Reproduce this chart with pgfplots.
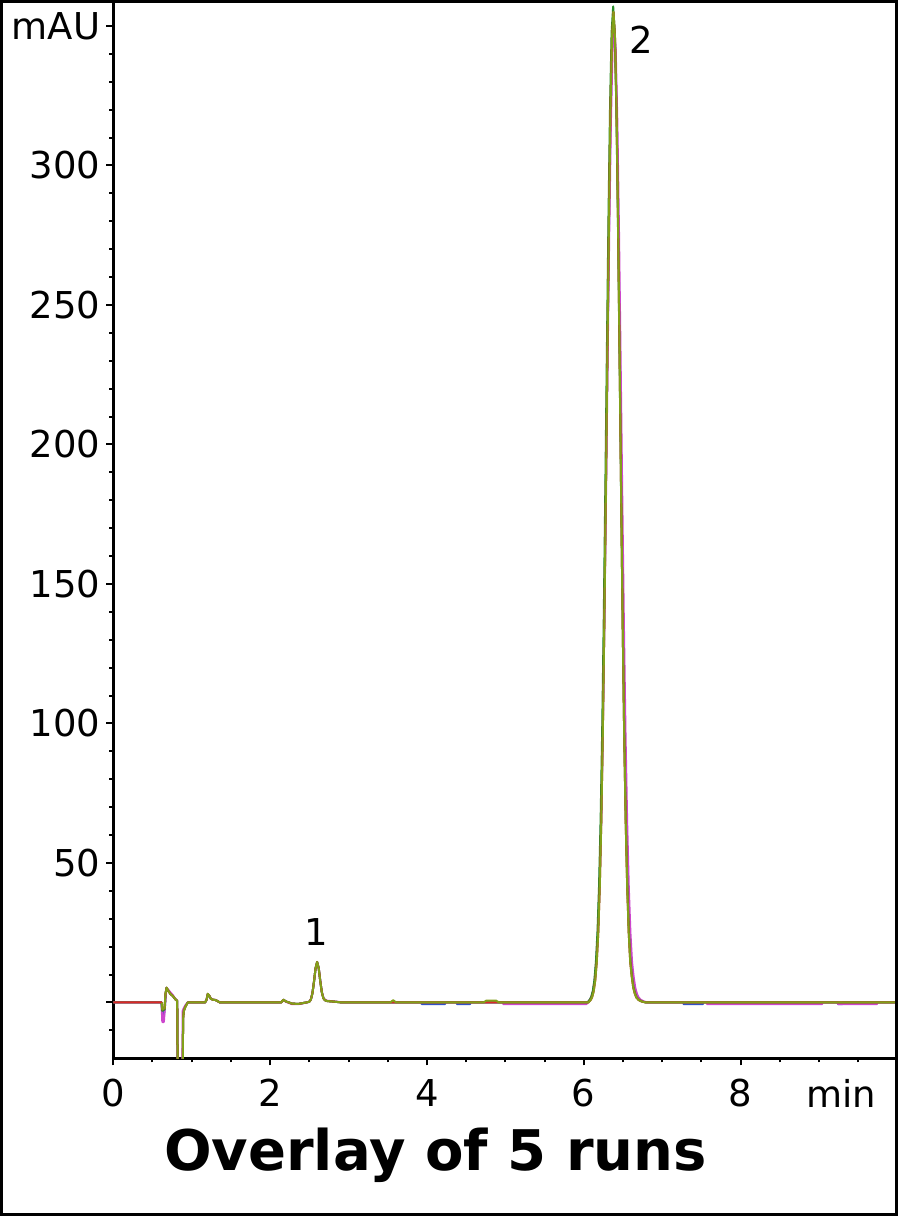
\documentclass[border=0pt]{standalone}
\usepackage{fontspec}
\setmainfont{DejaVu Sans}
\usepackage{pgfplots}
\pgfplotsset{compat=1.18}
\definecolor{cOlive}{RGB}{130,160,25}
\definecolor{cGreen}{RGB}{40,140,40}
\definecolor{cMag}{RGB}{205,70,205}
\definecolor{cBlue}{RGB}{50,80,200}
\definecolor{cRed}{RGB}{220,40,40}
\begin{document}
\begin{tikzpicture}
\useasboundingbox (-56.65pt,-78.85pt) rectangle (392.35pt,529.15pt);
\begin{axis}[
  at={(0,0)}, anchor=south west,
  scale only axis,
  width=392pt, height=529.15pt,
  xmin=0, xmax=10, ymin=-20, ymax=359.3,
  axis x line*=bottom, axis y line*=left,
  axis line style={line width=1.5pt, black},
  xtick={0,2,4,6,8}, xticklabels={0,2,4,6,8},
  minor xtick={0.5,1,...,9.5},
  ytick={0,50,100,150,200,250,300,350},
  yticklabels={,50,100,150,200,250,300,mAU},
  minor ytick={-10,10,20,...,340},
  tick align=outside,
  major tick length=3.5pt, minor tick length=2pt,
  tick style={line width=1pt, black},
  tick label style={font=\fontsize{18.5}{22}\selectfont},
  xticklabel style={yshift=-3.5pt},
  yticklabel style={xshift=0.5pt},
  /pgf/number format/assume math mode=true,
  every axis plot/.append style={line width=1pt, mark=none, line join=round},
]
% blue
\addplot[cBlue] coordinates {(0,0) (0.615,0) (0.625,-5) (0.645,-5) (0.66,-1) (0.675,5.2) (0.70,4.3) (0.73,3.1) (0.76,2.4) (0.79,1.2) (0.815,0.6) (0.83,-60) (0.88,-60) (0.89,-5) (0.90,-2.5) (0.92,-1.2) (0.95,0) (1.17,0) (1.19,1.0) (1.205,3.0) (1.225,2.3) (1.245,1.3) (1.27,1.0) (1.30,0.9) (1.33,0.5) (1.36,0) (2.14,0) (2.17,1.0) (2.20,0.4) (2.24,0) (2.28,-0.4) (2.36,-0.5) (2.42,-0.2) (2.46,0) (2.50,0.25) (2.52,1.1) (2.54,3.3) (2.56,7.5) (2.58,12.2) (2.60,14.3) (2.62,12.3) (2.64,7.7) (2.66,3.7) (2.68,1.6) (2.70,0.8) (2.73,0.5) (2.78,0.4) (2.85,0.2) (2.92,0) (3.93,0) (3.935,-0.6) (4.23,-0.6) (4.235,0) (4.38,0) (4.385,-0.6) (4.55,-0.6) (4.555,0)
(6.052,0) (6.082,0.9) (6.102,2.0) (6.122,4.1) (6.142,7.8) (6.162,14.4) (6.182,25.0) (6.202,41.4) (6.222,64.9) (6.242,96.4) (6.262,136.0) (6.282,181.9) (6.302,230.7) (6.322,277.5) (6.342,316.8) (6.362,342.9) (6.382,352) (6.402,342.9) (6.422,316.8) (6.442,277.5) (6.462,230.7) (6.482,181.9) (6.502,136.0) (6.522,96.4) (6.542,64.9) (6.562,41.4) (6.582,25.0) (6.602,14.4) (6.622,9.2) (6.642,5.2) (6.662,3.2) (6.682,1.8) (6.712,0.9) (6.752,0.35) (6.802,0)
(7.27,0) (7.275,-0.6) (7.52,-0.6) (7.525,0) (9.24,0) (9.245,-0.6) (9.30,-0.6) (9.305,0) (10,0)};
% magenta
\addplot[cMag] coordinates {(0,0) (0.615,0) (0.625,-7) (0.645,-7) (0.66,-1) (0.675,5.0) (0.70,4.6) (0.73,3.6) (0.76,2.6) (0.79,1.3) (0.815,0.6) (0.83,-60) (0.875,-60) (0.885,-3) (0.90,-2) (0.92,-1) (0.95,0) (1.17,0) (1.19,1.0) (1.205,3.0) (1.225,2.4) (1.245,1.4) (1.27,1.0) (1.30,0.9) (1.33,0.5) (1.36,0) (2.14,0) (2.17,0.9) (2.20,0.3) (2.24,-0.2) (2.28,-0.6) (2.36,-0.6) (2.42,-0.3) (2.46,0) (2.50,0.3) (2.52,1.2) (2.54,3.4) (2.56,7.6) (2.58,12.2) (2.60,14.2) (2.62,12.4) (2.64,7.8) (2.66,3.8) (2.68,1.7) (2.70,0.9) (2.73,0.6) (2.78,0.5) (2.85,0.3) (2.92,0) (4.97,0) (4.975,-0.6) (6.03,-0.6)
(6.0448,-0.3) (6.076,0.9) (6.0968,2.0) (6.1176,4.0) (6.1384,7.8) (6.1592,14.4) (6.18,24.9) (6.2008,41.2) (6.2216,64.5) (6.2424,95.8) (6.2632,135.2) (6.284,180.8) (6.3048,229.3) (6.3256,275.8) (6.3464,314.9) (6.3672,340.8) (6.388,350) (6.4088,340.8) (6.4296,314.9) (6.4504,275.8) (6.4712,229.3) (6.492,180.8) (6.5128,135.2) (6.5336,95.8) (6.5544,64.5) (6.5752,41.2) (6.596,24.9) (6.6168,14.4) (6.6376,9.1) (6.6584,5.2) (6.6792,3.1) (6.7,1.8) (6.7312,0.9) (6.77,0.35) (6.82,0)
(7.57,0) (7.575,-0.6) (9.04,-0.6) (9.045,0) (9.24,0) (9.245,-0.6) (9.74,-0.6) (9.745,0) (10,0)};
% green
\addplot[cGreen] coordinates {(0,0) (0.615,0) (0.625,-3) (0.655,-2.5) (0.665,3) (0.68,5.3) (0.70,4.2) (0.73,3.0) (0.76,2.3) (0.79,1.2) (0.815,0.6) (0.83,-60) (0.88,-60) (0.89,-6) (0.90,-3) (0.92,-1.5) (0.95,0) (1.17,0) (1.19,1.0) (1.205,3.1) (1.225,2.4) (1.245,1.3) (1.27,1.0) (1.30,0.9) (1.33,0.5) (1.36,0) (2.14,0) (2.17,1.0) (2.20,0.4) (2.24,0) (2.28,-0.4) (2.36,-0.5) (2.42,-0.2) (2.46,0) (2.50,0.25) (2.52,1.1) (2.54,3.3) (2.56,7.5) (2.58,12.3) (2.60,14.6) (2.62,12.3) (2.64,7.6) (2.66,3.6) (2.68,1.5) (2.70,0.8) (2.73,0.5) (2.78,0.4) (2.85,0.2) (2.92,0)
(6.046,0) (6.076,0.93) (6.096,2.0) (6.116,4.1) (6.136,7.9) (6.156,14.6) (6.176,25.4) (6.196,42.0) (6.216,65.8) (6.236,97.8) (6.256,137.9) (6.276,184.4) (6.296,234.0) (6.316,281.4) (6.336,321.2) (6.356,347.7) (6.376,357) (6.396,347.7) (6.416,321.2) (6.436,281.4) (6.456,234.0) (6.476,184.4) (6.496,137.9) (6.516,97.8) (6.536,65.8) (6.556,42.0) (6.576,25.4) (6.596,14.6) (6.616,9.3) (6.636,5.3) (6.656,3.2) (6.676,1.8) (6.706,0.9) (6.746,0.35) (6.796,0) (10,0)};
% red
\addplot[cRed] coordinates {(0,0) (0.62,0) (0.625,-2.5) (0.655,-2.0) (0.665,3.0) (0.68,5.3) (0.70,4.2) (0.73,3.0) (0.76,2.3) (0.79,1.2) (0.815,0.6) (0.83,-60) (0.88,-60) (0.89,-6) (0.90,-3) (0.92,-1.5) (0.95,0) (1.17,0) (1.19,1.0) (1.205,3.1) (1.225,2.4) (1.245,1.3) (1.27,1.0) (1.30,0.9) (1.33,0.5) (1.36,0) (2.14,0) (2.17,1.0) (2.20,0.4) (2.24,0) (2.28,-0.4) (2.36,-0.5) (2.42,-0.2) (2.46,0) (2.50,0.25) (2.52,1.1) (2.54,3.3) (2.56,7.5) (2.58,12.3) (2.60,14.5) (2.62,12.3) (2.64,7.6) (2.66,3.6) (2.68,1.5) (2.70,0.8) (2.73,0.5) (2.78,0.4) (2.85,0.2) (2.92,0)
(6.0599,0) (6.089,0.93) (6.1084,2.0) (6.1278,4.1) (6.1472,7.9) (6.1666,14.6) (6.186,25.2) (6.2054,41.8) (6.2248,65.4) (6.2442,97.2) (6.2636,137.1) (6.283,183.4) (6.3024,232.6) (6.3218,279.8) (6.3412,319.4) (6.3606,345.7) (6.38,355) (6.3994,345.7) (6.4188,319.4) (6.4382,279.8) (6.4576,232.6) (6.477,183.4) (6.4964,137.1) (6.5158,97.2) (6.5352,65.4) (6.5546,41.8) (6.574,25.2) (6.5934,14.6) (6.6128,9.3) (6.6322,5.3) (6.6516,3.2) (6.671,1.8) (6.7001,0.9) (6.74,0.35) (6.79,0) (10,0)};
% olive
\addplot[cOlive] coordinates {(0.62,0) (0.625,-2.5) (0.655,-2.0) (0.665,3.0) (0.68,5.3) (0.70,4.2) (0.73,3.0) (0.76,2.3) (0.79,1.2) (0.815,0.6) (0.83,-60) (0.88,-60) (0.89,-6) (0.90,-3) (0.92,-1.5) (0.95,0) (1.17,0) (1.19,1.0) (1.205,3.1) (1.225,2.4) (1.245,1.3) (1.27,1.0) (1.30,0.9) (1.33,0.5) (1.36,0) (2.14,0) (2.17,1.0) (2.20,0.4) (2.24,0) (2.28,-0.4) (2.36,-0.5) (2.42,-0.2) (2.46,0) (2.50,0.25) (2.52,1.1) (2.54,3.3) (2.56,7.5) (2.58,12.3) (2.60,14.5) (2.62,12.3) (2.64,7.6) (2.66,3.6) (2.68,1.5) (2.70,0.8) (2.73,0.5) (2.78,0.4) (2.85,0.2) (2.92,0) (3.53,0) (3.57,0.8) (3.61,0) (4.72,0) (4.76,0.7) (4.88,0.7) (4.92,0)
(6.0599,0) (6.089,0.93) (6.1084,2.0) (6.1278,4.1) (6.1472,7.9) (6.1666,14.6) (6.186,25.2) (6.2054,41.8) (6.2248,65.4) (6.2442,97.2) (6.2636,137.1) (6.283,183.4) (6.3024,232.6) (6.3218,279.8) (6.3412,319.4) (6.3606,345.7) (6.38,355) (6.3994,345.7) (6.4188,319.4) (6.4382,279.8) (6.4576,232.6) (6.477,183.4) (6.4964,137.1) (6.5158,97.2) (6.5352,65.4) (6.5546,41.8) (6.574,25.2) (6.5934,14.6) (6.6128,9.3) (6.6322,5.3) (6.6516,3.2) (6.671,1.8) (6.7001,0.9) (6.74,0.35) (6.79,0) (10,0)};
\node[font=\fontsize{18.5}{22}\selectfont] at (axis cs:2.594,25.4) {1};
\node[font=\fontsize{18.5}{22}\selectfont] at (axis cs:6.74,344.9) {2};
\end{axis}
\node[anchor=base, font=\fontsize{18.5}{22}\selectfont] at (364.1pt,-24.85pt) {min};
\node[anchor=base, font=\fontsize{28}{32}\selectfont\bfseries] at (161.1pt,-56.2pt) {Overlay of 5 runs};
\draw[line width=1.5pt, black] (-55.9pt,-78.1pt) rectangle (391.6pt,528.4pt);
\end{tikzpicture}
\end{document}
